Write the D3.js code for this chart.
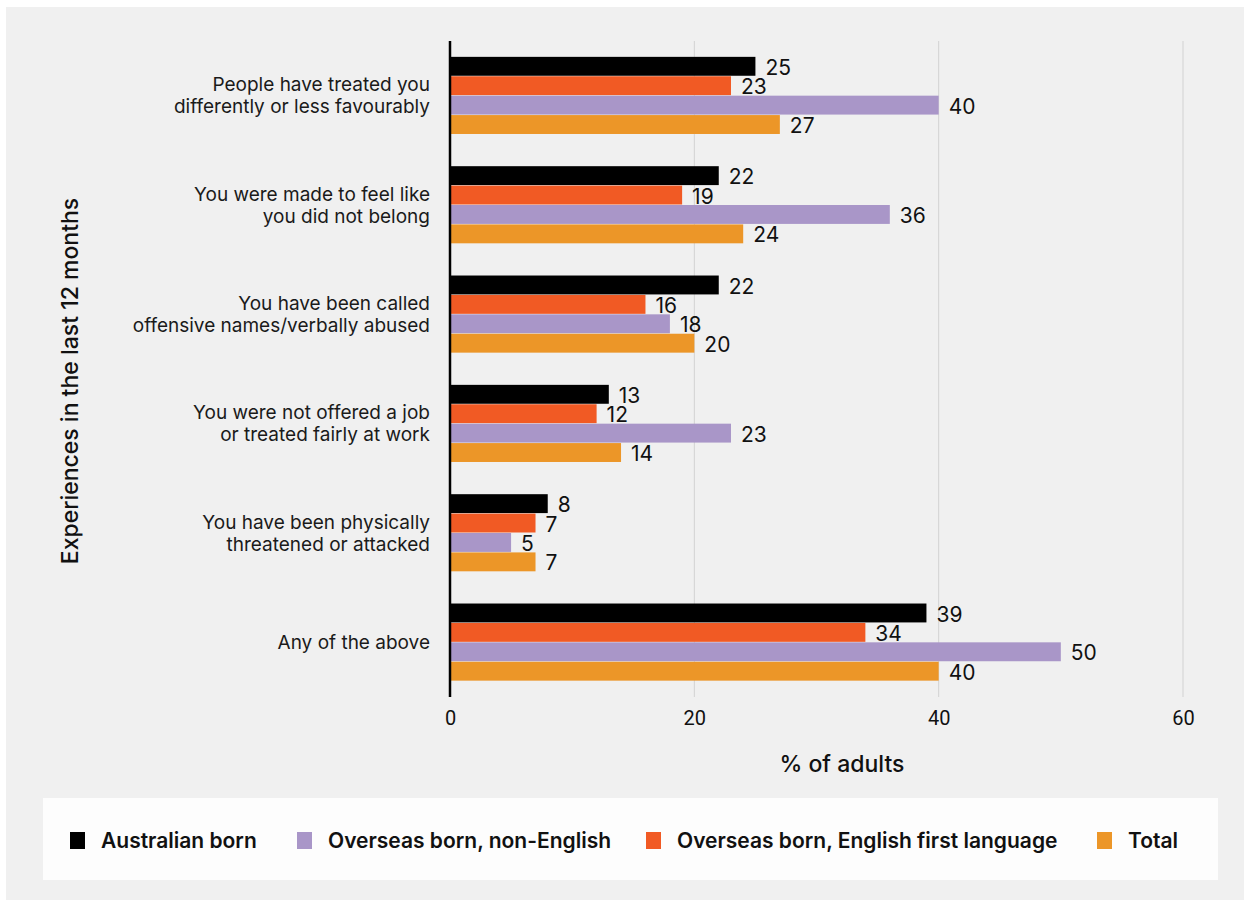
<!DOCTYPE html>
<html><head><meta charset="utf-8">
<script src="https://cdn.jsdelivr.net/npm/d3@7"></script>
<style>
html,body{margin:0;padding:0;background:#fff;}
svg{display:block;font-family:Inter,Roboto,"Noto Sans",sans-serif;}
</style></head>
<body><svg id="c" width="1250" height="902"></svg>
<script>
const categories = [
  ["People have treated you", "differently or less favourably"],
  ["You were made to feel like", "you did not belong"],
  ["You have been called", "offensive names/verbally abused"],
  ["You were not offered a job", "or treated fairly at work"],
  ["You have been physically", "threatened or attacked"],
  ["Any of the above"]
];
const seriesNames = ["Australian born", "Overseas born, English first language", "Overseas born, non-English", "Total"];
const australianBorn = [25, 22, 22, 13, 8, 39];
const overseasEnglish = [23, 19, 16, 12, 7, 34];
const overseasNonEnglish = [40, 36, 18, 23, 5, 50];
const total = [27, 24, 20, 14, 7, 40];
const xTicks = [0, 20, 40, 60];
const legendOrder = ["Australian born", "Overseas born, non-English", "Overseas born, English first language", "Total"];
const colors = {"Australian born":"#000000","Overseas born, English first language":"#f15a24","Overseas born, non-English":"#a996c8","Total":"#ec9628"};

const seriesValues = [australianBorn, overseasEnglish, overseasNonEnglish, total];
const svg = d3.select("#c");
svg.append("rect").attr("x",6).attr("y",7).attr("width",1238).attr("height",893).attr("fill","#f0f0f0");

const x = d3.scaleLinear().domain([0,60]).range([450,1183]);
const y = d3.scaleBand().domain(d3.range(categories.length)).range([41,697]).paddingInner(0.29).paddingOuter(0.145);
const ys = d3.scaleBand().domain(d3.range(seriesNames.length)).range([0,y.bandwidth()]);

// grid
svg.append("g").selectAll("line").data(xTicks.filter(d=>d>0)).join("line")
  .attr("x1",d=>x(d)).attr("x2",d=>x(d)).attr("y1",41).attr("y2",697)
  .attr("stroke","#d2d2d2").attr("stroke-width",1);

// bars
const g = svg.append("g");
categories.forEach((c,i)=>{
  seriesNames.forEach((s,j)=>{
    const v = seriesValues[j][i];
    g.append("rect").attr("x",x(0)).attr("y",y(i)+ys(j)).attr("width",x(v)-x(0)).attr("height",ys.bandwidth()-0.5)
      .attr("fill",colors[s]);
    g.append("text").attr("x",x(v)+10).attr("y",y(i)+ys(j)+ys.bandwidth()/2+1).attr("dy","0.35em")
      .attr("font-size",21).attr("fill","#111").text(v);
  });
  const lines = c;
  const cy = y(i)+y.bandwidth()/2;
  lines.forEach((l,k)=>{
    g.append("text").attr("x",430).attr("y",cy+(k-(lines.length-1)/2)*22).attr("dy","0.35em")
      .attr("text-anchor","end").attr("font-size",19).attr("fill","#1a1a1a").text(l);
  });
});

// axis line
svg.append("line").attr("x1",x(0)).attr("x2",x(0)).attr("y1",41).attr("y2",697).attr("stroke","#000").attr("stroke-width",2.5);

// x axis ticks
const xa = svg.append("g").attr("transform","translate(0,697)").call(d3.axisBottom(x).tickValues(xTicks).tickSize(0).tickPadding(14));
xa.select(".domain").remove();
xa.selectAll("text").attr("font-size",20).attr("fill","#111").attr("font-family","Roboto, sans-serif");

svg.append("text").attr("x",842).attr("y",764).attr("dy","0.35em").attr("text-anchor","middle")
  .attr("font-size",23).attr("font-weight",500).attr("fill","#111").text("% of adults");
svg.append("text").attr("transform","translate(70,381) rotate(-90)").attr("dy","0.35em").attr("text-anchor","middle")
  .attr("font-size",23).attr("font-weight",500).attr("fill","#111").text("Experiences in the last 12 months");

// legend
svg.append("rect").attr("x",43).attr("y",798).attr("width",1175).attr("height",82).attr("fill","#fdfdfd");
const legX = [70, 297, 646, 1097];
legendOrder.forEach((s,i)=>{
  svg.append("rect").attr("x",legX[i]).attr("y",832).attr("width",15).attr("height",17).attr("fill",colors[s]);
  svg.append("text").attr("x",legX[i]+31).attr("y",841).attr("dy","0.35em").attr("font-size",21).attr("font-weight",600)
    .attr("fill","#111").text(s);
});
</script></body></html>
